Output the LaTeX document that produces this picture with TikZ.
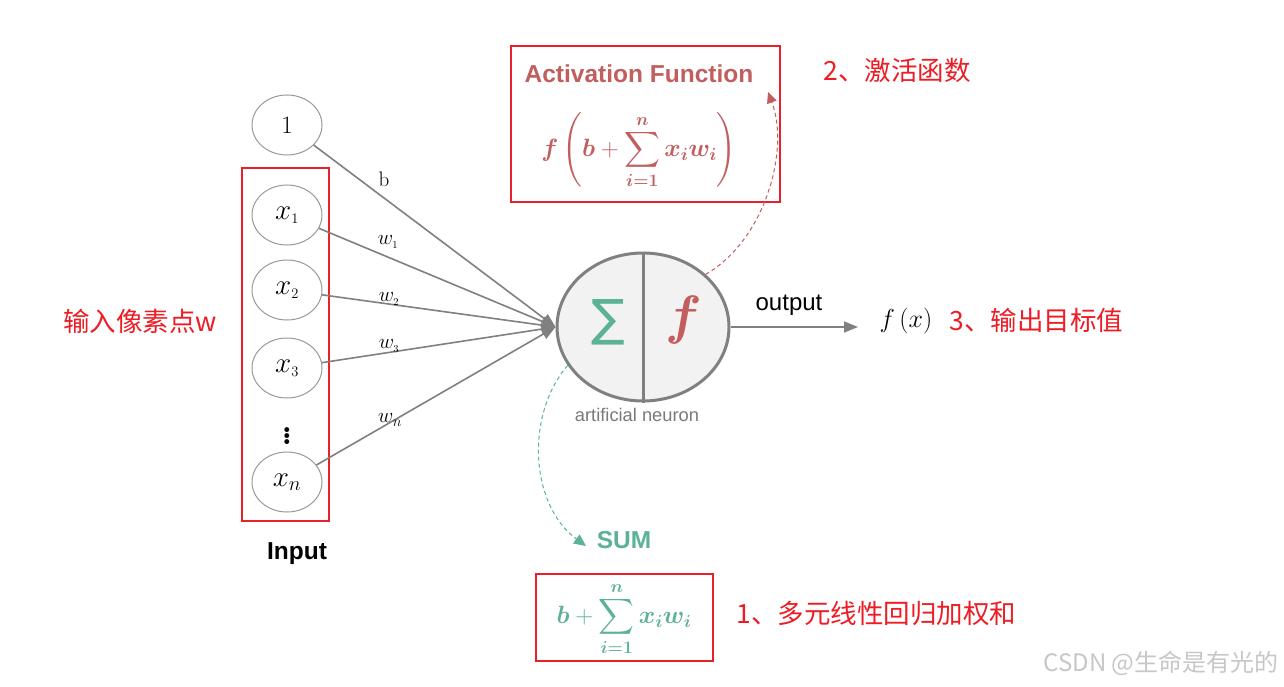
\RequirePackage{fix-cm}
\documentclass[tikz,border=0pt]{standalone}
\usepackage{amsmath,bm}
\usepackage{fontspec}
\newfontfamily\hv{Liberation Sans}
\newfontfamily\cjk{Noto Sans CJK SC}
\newfontfamily\dvs{DejaVu Sans}
\usetikzlibrary{shapes.geometric,arrows.meta}
\definecolor{redbox}{RGB}{232,32,42}
\definecolor{cnred}{RGB}{238,28,36}
\definecolor{actred}{RGB}{194,94,94}
\definecolor{sumgreen}{RGB}{92,178,148}
\definecolor{lgray}{RGB}{128,128,128}
\tikzset{
  inp/.style={ellipse, draw=lgray!80, line width=1, minimum width=70, minimum height=60, inner sep=0},
  conn/.style={draw=lgray, line width=1.6, -{Triangle[length=14,width=11]}},
  wlab/.style={font=\fontsize{21}{22}\selectfont},
  redframe/.style={draw=redbox, line width=2, rectangle, inner sep=0},
  cn/.style={text=cnred, font=\cjk\fontsize{26.5}{30}\selectfont},
  dashred/.style={draw=actred, line width=1, dash pattern=on 4 off 3, -{Triangle[length=11,width=10]}},
  dashgreen/.style={draw=sumgreen, line width=1, dash pattern=on 4 off 3, -{Triangle[length=12,width=11]}},
}
\begin{document}
\begin{tikzpicture}[x=1pt,y=-1pt]
\useasboundingbox (0,0) rectangle (1284,687);
\fill[white] (0,0) rectangle (1284,687);
% input box
\node[redframe, minimum width=87, minimum height=353] (inbox) at (285.5,344.5) {};
% inputs
\node[inp] (one) at (287,125) {\fontsize{25}{26}\selectfont$1$};
\node[inp] (x1) at (287,215) {\fontsize{29}{30}\selectfont$x_{\scriptscriptstyle 1}$};
\node[inp] (x2) at (287,290) {\fontsize{29}{30}\selectfont$x_{\scriptscriptstyle 2}$};
\node[inp] (x3) at (287,368) {\fontsize{29}{30}\selectfont$x_{\scriptscriptstyle 3}$};
\node[inp] (xn) at (287,482) {\fontsize{29}{30}\selectfont$x_{n}$};
\node[inner sep=0] (dots) at (287,433) {\fontsize{34}{34}\selectfont$\bm{\vdots}$};
\node[font=\hv\bfseries\fontsize{24.5}{26}\selectfont] (input) at (297,554) {Input};
\node[cn] (cn0) at (140,321) {输入像素点w};
% neuron
\node[ellipse, draw=lgray, line width=3, fill=black!5, minimum width=172, minimum height=148] (neuron) at (643,327) {};
\draw[lgray, line width=3] (neuron.north) -- (neuron.south);
\node[text=sumgreen, font=\dvs\fontsize{50}{50}\selectfont] (sig) at (608,322) {∑};
\node[text=actred] (fn) at (684,320) {\fontsize{54}{54}\selectfont$\bm{f}$};
\node[text=lgray!95!black, font=\hv\fontsize{18.3}{20}\selectfont] (artn) at (637,415) {artificial neuron};
% connectors
\draw[conn] (one) -- (neuron.west);
\draw[conn] (x1) -- (neuron.west);
\draw[conn] (x2) -- (neuron.west);
\draw[conn] (x3) -- (neuron.west);
\draw[conn] (xn) -- (neuron.west);
\node[wlab] (lb) at (384,179) {$\mathrm{b}$};
\node[wlab] (lw1) at (388,242) {$w_{\scriptscriptstyle 1}$};
\node[wlab] (lw2) at (389,299) {$w_{\scriptscriptstyle 2}$};
\node[wlab] (lw3) at (389,346) {$w_{\scriptscriptstyle 3}$};
\node[wlab] (lwn) at (390,420) {$w_{n}$};
% output
\coordinate (outend) at (858,327);
\draw[conn] (neuron.east) -- (outend);
\node[font=\hv\fontsize{24}{26}\selectfont] (outl) at (789,305) {output};
\node (fx) at (906,321) {\fontsize{26}{28}\selectfont$f\,(x)$};
\node[cn, anchor=west] (cn3) at (946,320) {3、输出目标值};
% activation box
\node[redframe, minimum width=269, minimum height=156] (actbox) at (645.5,124) {};
\node[inner sep=0, text=actred, font=\hv\bfseries\fontsize{24.5}{26}\selectfont] (acttitle) at (639,74) {Activation Function};
\node[inner sep=0, text=actred] (actf) at (639,151) {\fontsize{25}{28}\selectfont$\displaystyle \bm{f}\left(\bm{b}+\sum_{\bm{i=1}}^{\bm{n}}\bm{x_i w_i}\right)$};
\node[cn, anchor=west] (cn2) at (820,70) {2、激活函数};
\coordinate (acttip) at (768,92);
\draw[dashred] (neuron.40) .. controls (765,240) and (790,150) .. (acttip);
% sum
\coordinate (sumtip) at (586,546);
\draw[dashgreen] (neuron.207) .. controls (525,415) and (530,505) .. (sumtip);
\node[inner sep=0, text=sumgreen, font=\hv\bfseries\fontsize{24.5}{26}\selectfont] (suml) at (624,540) {SUM};
\node[redframe, minimum width=177, minimum height=87] (sumbox) at (624.5,617.5) {};
\node[inner sep=0, text=sumgreen] (sumf) at (624,619) {\fontsize{25}{28}\selectfont$\displaystyle \bm{b}+\sum_{\bm{i=1}}^{\bm{n}}\bm{x_i w_i}$};
\node[cn, anchor=west] (cn1) at (733,613) {1、多元线性回归加权和};
% watermark
\node[text=black!22, font=\cjk\fontsize{24}{26}\selectfont, anchor=east] (wm) at (1282,663) {CSDN @生命是有光的};
\end{tikzpicture}
\end{document}
